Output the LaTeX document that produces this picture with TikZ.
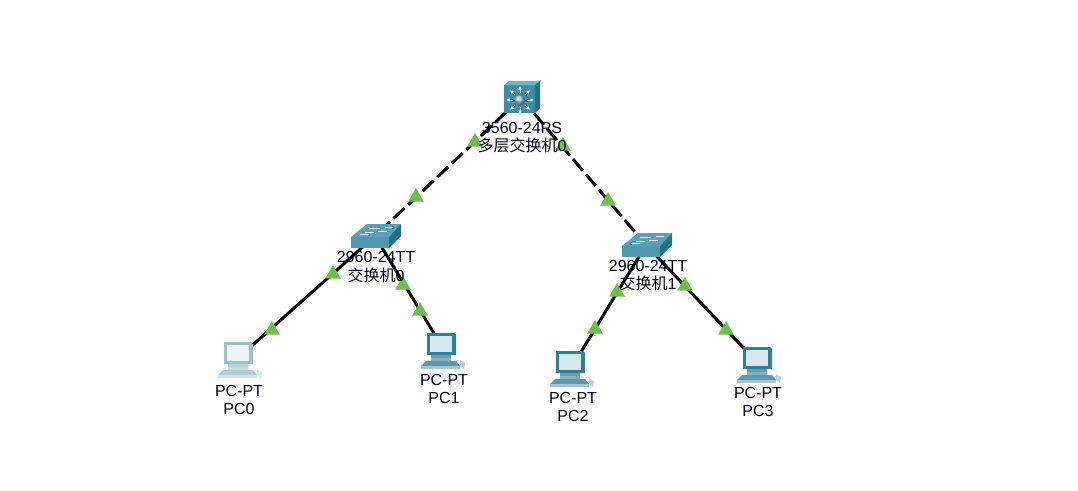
\documentclass[tikz,border=0pt]{standalone}
\usepackage{fontspec}
\setmainfont{Liberation Sans}
\newfontfamily\cjk{Noto Sans CJK SC}
\usetikzlibrary{shapes.geometric,arrows.meta}
\definecolor{upgreen}{HTML}{6CBF4B}
\definecolor{tealfront}{HTML}{3F8CA6}
\definecolor{tealtop}{HTML}{72B1C5}
\definecolor{tealside}{HTML}{23708A}
\tikzset{
  pics/mlswitch/.style={code={
    \fill[tealfront] (-17,-13) rectangle (14,15);
    \fill[tealtop] (-17,-13) -- (-12,-17) -- (19,-17) -- (14,-13) -- cycle;
    \fill[tealside] (14,-13) -- (19,-17) -- (19,10) -- (14,15) -- cycle;
    \foreach \a in {0,45,...,315}
      \draw[white, line width=.9pt, -{Latex[length=3.5pt,width=3.5pt]}] (-1,2) ++(\a:7) -- ++(\a:7);
    \shade[ball color=tealtop!70!white] (-1,2) circle (5.5);
  }},
  pics/switchbox/.style={code={
    \fill[tealfront!70!tealtop] (-24,1) rectangle (14,12);
    \fill[tealfront!45!tealtop] (-24,1) -- (-8,-12) -- (26,-12) -- (14,1) -- cycle;
    \fill[tealside] (14,1) -- (26,-12) -- (26,0) -- (14,12) -- cycle;
    \draw[white!80!tealtop, line width=.8pt] (-6,-8) -- (5,-8) (10,-9) -- (18,-9)
      (-10,-4) -- (-1,-4) (-15,-2) -- (-6,-2) (3,-5) -- (12,-5);
  }},
  pics/pc/.style 2 args={code={
    \fill[#1] (-14,-12) -- (13,-12) -- (15,-10) -- (15,10) -- (-14,10) -- cycle;
    \fill[#2] (-11,-9) rectangle (11,7);
    \fill[#1!75!white] (-10,10) rectangle (10,13);
    \fill[#1!60!white] (-10,13) rectangle (10,16);
    \fill[#1!80!white] (-15,16) -- (15,16) -- (19,21) -- (-20,21) -- cycle;
    \fill[#1!45!white] (-20,21) rectangle (19,24);
    \fill[#1!35!white] (19,15) -- (24,18) -- (23,24) -- (19,21) -- cycle;
  }}
}
\begin{document}
\begin{tikzpicture}[x=1pt, y=-1pt,
  dev/.style={inner sep=0pt, minimum size=0pt},
  trunk/.style={draw=black, line width=3pt, dash pattern=on 15pt off 5pt},
  eth/.style={draw=black, line width=3pt},
  up/.style={regular polygon, regular polygon sides=3, fill=upgreen, inner sep=0pt, minimum size=18pt},
  lbl/.style={align=center, text=black!90!blue, inner sep=0pt, font=\fontsize{16}{18.5}\selectfont}]
  \useasboundingbox[fill=white] (0,0) rectangle (1078,490);
  \node[dev] (mls) at (521,98) {};
  \node[dev] (sw0) at (375,236) {};
  \node[dev] (sw1) at (646,245) {};
  \node[dev] (pc0) at (237,359) {};
  \node[dev] (pc1) at (441,345) {};
  \node[dev] (pc2) at (570,370) {};
  \node[dev] (pc3) at (755,360) {};
  \draw[trunk] (mls) -- (sw0);
  \draw[trunk] (mls) -- (sw1);
  \foreach \n in {pc0,pc1} \draw[eth] (sw0) -- (\n);
  \foreach \n in {pc2,pc3} \draw[eth] (sw1) -- (\n);
  \pic at (521,98) {mlswitch};
  \pic at (375,236) {switchbox};
  \pic at (646,245) {switchbox};
  \pic at (238,354) {pc={black!10!tealtop!65!white}{white!85!tealtop}};
  \pic at (441,345) {pc={tealside!80!tealtop}{white!70!tealtop}};
  \pic at (570,363) {pc={tealside!80!tealtop}{white!70!tealtop}};
  \pic at (757,359) {pc={tealside!80!tealtop}{white!70!tealtop}};
  \foreach \i/\x/\y in {1/475/142,2/416/197,3/333/274,4/272/330,5/403/285,6/420/311,
    7/563/146,8/608/201,9/617/292,10/595/329,11/685/286,12/726/330}
    \node[up] (up\i) at (\x,\y) {};
  \node[lbl] (lmls) at (522,137.5) {3560-24PS\\{\cjk 多层交换机}0};
  \node[lbl] (lsw0) at (376,267) {2960-24TT\\{\cjk 交换机}0};
  \node[lbl] (lsw1) at (648,275.5) {2960-24TT\\{\cjk 交换机}1};
  \node[lbl] (lpc0) at (239,400) {PC-PT\\PC0};
  \node[lbl] (lpc1) at (444,389) {PC-PT\\PC1};
  \node[lbl] (lpc2) at (573,407) {PC-PT\\PC2};
  \node[lbl] (lpc3) at (758,402) {PC-PT\\PC3};
\end{tikzpicture}
\end{document}
